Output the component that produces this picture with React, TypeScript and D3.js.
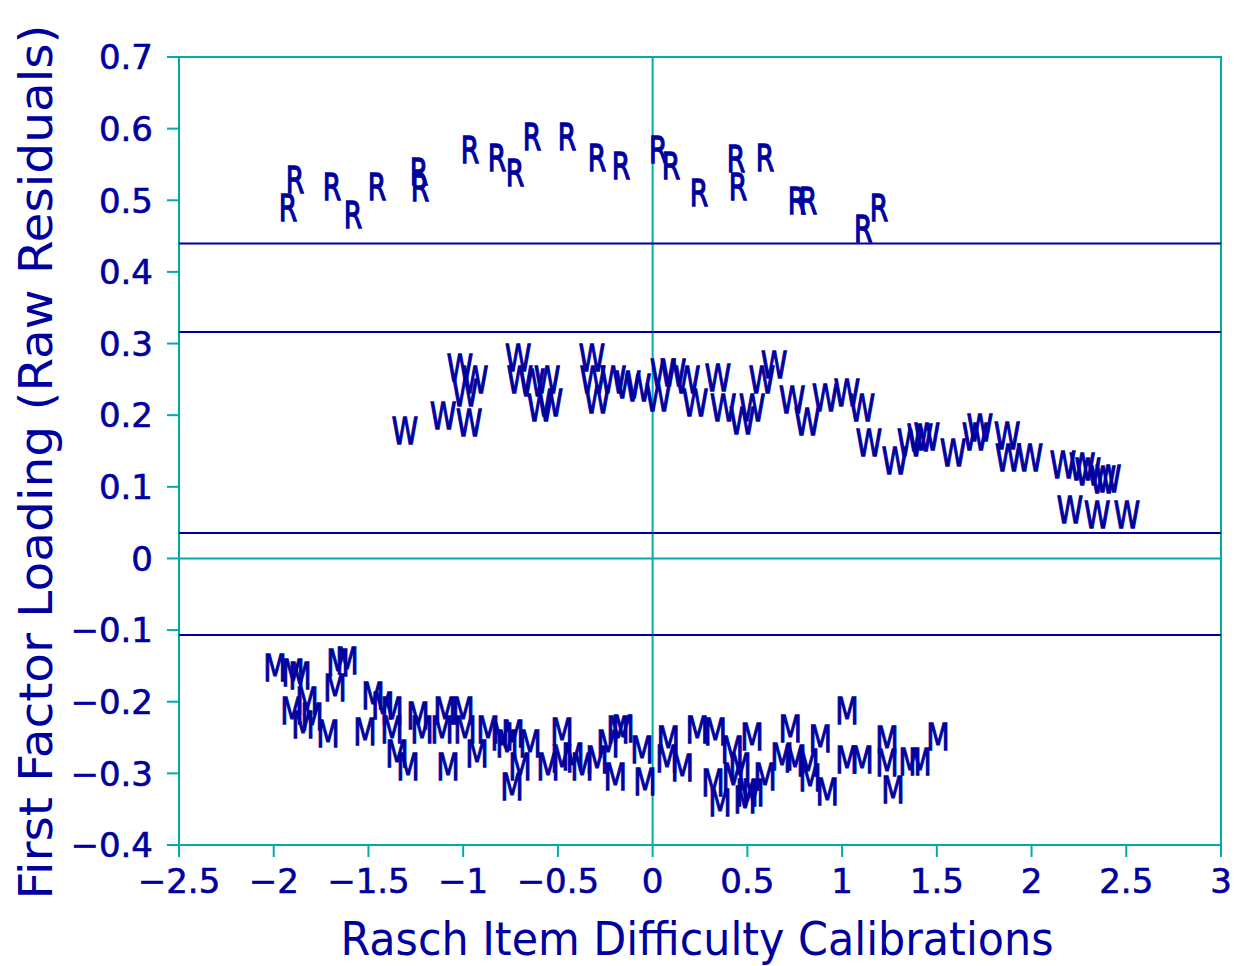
import React from "react";
import * as d3 from "d3";

// item markers: [calibration, loading]
const rItems: [number, number][] = [
  [-1.925, 0.489], [-1.888, 0.529], [-1.692, 0.519], [-1.582, 0.48], [-1.455, 0.519],
  [-1.233, 0.54], [-1.228, 0.518], [-0.964, 0.57], [-0.821, 0.559], [-0.726, 0.538],
  [-0.637, 0.589], [-0.452, 0.589], [-0.294, 0.559], [-0.167, 0.548], [0.029, 0.57],
  [0.097, 0.548], [0.245, 0.51], [0.44, 0.558], [0.451, 0.519], [0.593, 0.559],
  [0.762, 0.499], [0.82, 0.499], [1.111, 0.46], [1.195, 0.489],
];

const wItems: [number, number][] = [
  [-1.307, 0.179], [-1.106, 0.2], [-0.969, 0.189], [-1.017, 0.267], [-0.937, 0.249],
  [-0.99, 0.231], [-0.71, 0.28], [-0.7, 0.249], [-0.637, 0.246], [-0.557, 0.249],
  [-0.594, 0.21], [-0.542, 0.218], [-0.32, 0.28], [-0.293, 0.221], [-0.315, 0.249],
  [-0.209, 0.249], [-0.13, 0.242], [-0.077, 0.239], [0.055, 0.259], [0.029, 0.225],
  [0.108, 0.259], [0.182, 0.249], [0.224, 0.218], [0.345, 0.252], [0.372, 0.211],
  [0.472, 0.193], [0.525, 0.21], [0.577, 0.249], [0.641, 0.27], [0.736, 0.221],
  [0.815, 0.191], [0.91, 0.224], [1.026, 0.231], [1.105, 0.21], [1.142, 0.161],
  [1.279, 0.137], [1.359, 0.161], [1.411, 0.168], [1.448, 0.17], [1.586, 0.147],
  [1.702, 0.17], [1.728, 0.182], [1.871, 0.172], [1.876, 0.14], [1.992, 0.14],
  [2.166, 0.131], [2.267, 0.128], [2.298, 0.121], [2.377, 0.11], [2.404, 0.112],
  [2.203, 0.068], [2.346, 0.061], [2.504, 0.061],
];

const mItems: [number, number][] = [
  [-1.993, -0.153], [-1.898, -0.16], [-1.861, -0.163], [-1.661, -0.145], [-1.613, -0.142],
  [-1.677, -0.181], [-1.824, -0.198], [-1.903, -0.212], [-1.798, -0.221], [-1.845, -0.232],
  [-1.713, -0.244], [-1.518, -0.242], [-1.476, -0.191], [-1.424, -0.205], [-1.376, -0.212],
  [-1.376, -0.239], [-1.35, -0.272], [-1.291, -0.291], [-1.239, -0.219], [-1.217, -0.239],
  [-1.096, -0.212], [-1.112, -0.239], [-1.001, -0.212], [-0.99, -0.239], [-1.08, -0.291],
  [-0.927, -0.272], [-0.869, -0.239], [-0.795, -0.249], [-0.742, -0.319], [-0.737, -0.244],
  [-0.769, -0.258], [-0.647, -0.258], [-0.7, -0.291], [-0.478, -0.242], [-0.552, -0.291],
  [-0.478, -0.279], [-0.42, -0.277], [-0.373, -0.291], [-0.294, -0.281], [-0.235, -0.258],
  [-0.183, -0.239], [-0.156, -0.237], [-0.056, -0.267], [-0.198, -0.305], [-0.04, -0.312],
  [0.082, -0.253], [0.076, -0.279], [0.156, -0.292], [0.235, -0.239], [0.33, -0.242],
  [0.42, -0.267], [0.525, -0.249], [0.319, -0.313], [0.356, -0.341], [0.425, -0.305],
  [0.498, -0.327], [0.461, -0.291], [1.026, -0.212], [0.726, -0.237], [0.885, -0.251],
  [0.683, -0.277], [0.752, -0.279], [0.82, -0.285], [0.831, -0.306], [0.921, -0.326],
  [0.593, -0.305], [0.53, -0.327], [0.488, -0.337], [1.026, -0.281], [1.105, -0.281],
  [1.237, -0.253], [1.237, -0.285], [1.269, -0.323], [1.359, -0.284], [1.411, -0.284],
  [1.506, -0.249],
];

// horizontal reference lines
const refLines = [0.4397, 0.316, 0.0356, -0.1068];

const xTicks = [-2.5, -2, -1.5, -1, -0.5, 0, 0.5, 1, 1.5, 2, 2.5, 3];
const yTicks = [-0.4, -0.3, -0.2, -0.1, 0, 0.1, 0.2, 0.3, 0.4, 0.5, 0.6, 0.7];

const NAVY = "#0000a0";
const TEAL = "#00abab";

const fmt = (v: number) => {
  const s = String(Math.round(v * 10) / 10);
  return s.replace("-", "\u2212");
};

const App = () => {
  const w = 1235;
  const h = 966;
  const left = 179, right = 1221, top = 57, bottom = 845;

  const x = d3.scaleLinear().domain([-2.5, 3]).range([left, right]);
  const y = d3.scaleLinear().domain([-0.4, 0.7]).range([bottom, top]);

  const marker = (pts: [number, number][], ch: string, key: string) =>
    pts.map((d, i) => (
      <text
        key={key + i}
        transform={`translate(${x(d[0])},${y(d[1])}) scale(0.72,1)`}
        textAnchor="middle"
        dy="0.36em"
        fontSize={37}
        fill={NAVY}
        stroke={NAVY}
        strokeWidth={1.3}
      >
        {ch}
      </text>
    ));

  return (
    <svg width={w} height={h} style={{position: "absolute", left: 0, top: 0, background: "#fff"}}
         fontFamily="DejaVu Sans, sans-serif">
      {/* frame */}
      <rect x={left} y={top} width={right - left} height={bottom - top} fill="none" stroke={TEAL} strokeWidth={2}/>
      <line x1={x(0)} x2={x(0)} y1={top} y2={bottom} stroke={TEAL} strokeWidth={2}/>
      <line x1={left} x2={right} y1={y(0)} y2={y(0)} stroke={TEAL} strokeWidth={2}/>

      {refLines.map((v, i) => (
        <line key={"r" + i} x1={left} x2={right} y1={y(v)} y2={y(v)} stroke={NAVY} strokeWidth={2}/>
      ))}

      {/* ticks */}
      {xTicks.map((t) => (
        <g key={"x" + t}>
          <line x1={x(t)} x2={x(t)} y1={bottom} y2={bottom + 12} stroke={TEAL} strokeWidth={2}/>
          <text x={x(t)} y={bottom + 48} textAnchor="middle" fontSize={34} fill={NAVY}
                stroke={NAVY} strokeWidth={0.6}>{fmt(t)}</text>
        </g>
      ))}
      {yTicks.map((t) => (
        <g key={"y" + t}>
          <line x1={left - 12} x2={left} y1={y(t)} y2={y(t)} stroke={TEAL} strokeWidth={2}/>
          <text x={153} y={y(t)} dy="0.36em" textAnchor="end" fontSize={34} fill={NAVY}
                stroke={NAVY} strokeWidth={0.6}>{fmt(t)}</text>
        </g>
      ))}

      {marker(rItems, "R", "r")}
      {marker(wItems, "W", "w")}
      {marker(mItems, "M", "m")}

      {/* axis titles */}
      <text x={697} y={955} textAnchor="middle" fontSize={46} fill={NAVY}
            textLength={713} lengthAdjust="spacingAndGlyphs">Rasch Item Difficulty Calibrations</text>
      <text transform={`translate(52,462) rotate(-90)`} textAnchor="middle" fontSize={46} fill={NAVY}
            textLength={875} lengthAdjust="spacingAndGlyphs">First Factor Loading (Raw Residuals)</text>
    </svg>
  );
};

export default App;
